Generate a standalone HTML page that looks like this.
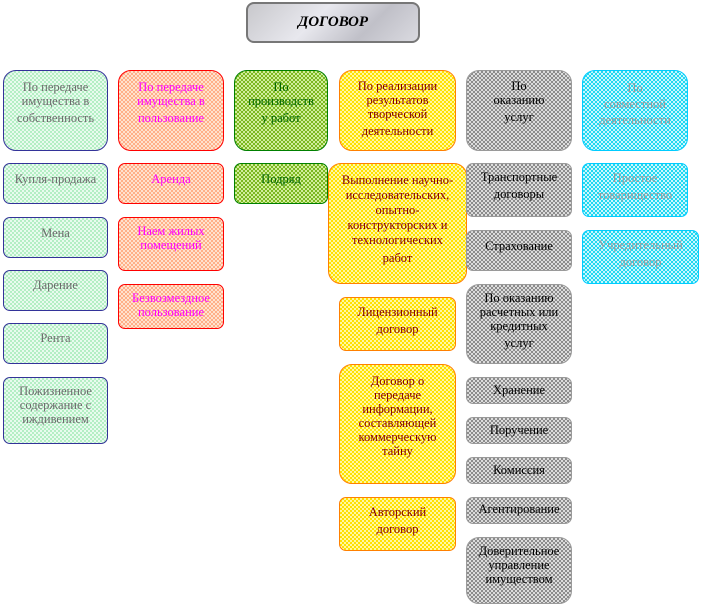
<!DOCTYPE html>
<html><head><meta charset="utf-8"><style>
body{margin:0;width:702px;height:607px;background:#fff;position:relative;overflow:hidden;font-family:"Liberation Serif","Noto Serif CJK SC",serif;}
.b{position:absolute;box-sizing:border-box;border:1px solid;border-radius:13px;text-align:center;font-size:12.5px;line-height:14px;padding-top:5px;white-space:nowrap;background-size:4px 4px;}
.s{border-radius:7px;}
.c1{border-color:#333399;color:#6b6b6b;background-image:conic-gradient(#b4eec4 25%,#e8fbee 0 50%,#b4eec4 0 75%,#e8fbee 0);}
.c2{border-color:#ff0000;color:#ff00ff;background-image:conic-gradient(#ffb088 25%,#ffe2cf 0 50%,#ffb088 0 75%,#ffe2cf 0);}
.c3{border-color:#008000;color:#006600;background-image:conic-gradient(#7cb820 25%,#d0ee9c 0 50%,#7cb820 0 75%,#d0ee9c 0);}
.c4{border-color:#ff8000;color:#800000;background-image:conic-gradient(#ffe000 25%,#fff8a0 0 50%,#ffe000 0 75%,#fff8a0 0);}
.c5{border-color:#9a9a9a;color:#000;background-image:conic-gradient(#8c8c8c 25%,#dcdcdc 0 50%,#8c8c8c 0 75%,#dcdcdc 0);}
.c6{border-color:#00ccff;color:#999;background-image:conic-gradient(#20d8f0 25%,#c8f6ff 0 50%,#20d8f0 0 75%,#c8f6ff 0);}
#t{position:absolute;left:246px;top:2px;width:174px;height:41px;box-sizing:border-box;border:2px solid #777;border-radius:8px;background:linear-gradient(135deg,#c8c8cc,#e8e8ee 40%,#c0c0c8 70%,#dadae0);text-align:center;font-weight:bold;font-style:italic;font-size:15px;line-height:36px;}
.g{display:block;margin-top:3px}
</style></head><body>
<div id="t">ДОГОВОР</div>

<div class="b c1" style="left:3px;top:70px;width:105px;height:81px;padding-top:9px">По передаче<br>имущества в<br><span class="g">собственность</span></div>
<div class="b c1 s" style="left:3px;top:163px;width:105px;height:41px;padding-top:8px">Купля-продажа</div>
<div class="b c1 s" style="left:3px;top:217px;width:105px;height:41px;padding-top:8px">Мена</div>
<div class="b c1 s" style="left:3px;top:270px;width:105px;height:41px;padding-top:7px">Дарение</div>
<div class="b c1 s" style="left:3px;top:323px;width:105px;height:41px;padding-top:7px">Рента</div>
<div class="b c1 s" style="left:3px;top:377px;width:105px;height:67px;padding-top:6px">Пожизненное<br>содержание с<br>иждивением</div>

<div class="b c2" style="left:118px;top:70px;width:106px;height:81px;padding-top:9px">По передаче<br>имущества в<br><span class="g">пользование</span></div>
<div class="b c2 s" style="left:118px;top:163px;width:106px;height:41px;padding-top:8px">Аренда</div>
<div class="b c2 s" style="left:118px;top:217px;width:106px;height:54px;padding-top:6px">Наем жилых<br>помещений</div>
<div class="b c2 s" style="left:118px;top:284px;width:106px;height:45px;padding-top:6px">Безвозмездное<br>пользование</div>

<div class="b c3" style="left:234px;top:70px;width:94px;height:81px;padding-top:9px">По<br>производств<br><span class="g">у работ</span></div>
<div class="b c3 s" style="left:234px;top:163px;width:94px;height:41px;padding-top:8px">Подряд</div>

<div class="b c4" style="left:339px;top:70px;width:117px;height:81px;padding-top:8px">По реализации<br>результатов<br>творческой<br><span class="g">деятельности</span></div>
<div class="b c4" style="left:328px;top:163px;width:139px;height:121px;padding-top:9px;line-height:15px">Выполнение научно-<br>исследовательских,<br>опытно-<br>конструкторских и<br>технологических<br><span class="g">работ</span></div>
<div class="b c4 s" style="left:339px;top:297px;width:117px;height:54px;padding-top:6px;line-height:17px">Лицензионный<br>договор</div>
<div class="b c4" style="left:339px;top:364px;width:117px;height:120px;padding-top:9px">Договор о<br>передаче<br>информации,<br>составляющей<br>коммерческую<br>тайну</div>
<div class="b c4 s" style="left:339px;top:497px;width:117px;height:54px;padding-top:6px;line-height:17px">Авторский<br>договор</div>

<div class="b c5" style="left:466px;top:70px;width:106px;height:81px;padding-top:8px">По<br>оказанию<br><span class="g">услуг</span></div>
<div class="b c5 s" style="left:466px;top:163px;width:106px;height:54px;padding-top:5px;line-height:17px">Транспортные<br>договоры</div>
<div class="b c5 s" style="left:466px;top:230px;width:106px;height:41px;padding-top:8px">Страхование</div>
<div class="b c5" style="left:466px;top:284px;width:106px;height:80px;padding-top:6px">По оказанию<br>расчетных или<br>кредитных<br><span class="g">услуг</span></div>
<div class="b c5 s" style="left:466px;top:377px;width:106px;height:27px;padding-top:5px">Хранение</div>
<div class="b c5 s" style="left:466px;top:417px;width:106px;height:27px;padding-top:5px">Поручение</div>
<div class="b c5 s" style="left:466px;top:457px;width:106px;height:27px;padding-top:5px">Комиссия</div>
<div class="b c5 s" style="left:466px;top:497px;width:106px;height:27px;padding-top:4px">Агентирование</div>
<div class="b c5" style="left:466px;top:537px;width:106px;height:67px;padding-top:6px">Доверительное<br>управление<br>имуществом</div>

<div class="b c6" style="left:582px;top:70px;width:106px;height:81px;padding-top:9px;line-height:16px">По<br>совместной<br>деятельности</div>
<div class="b c6 s" style="left:582px;top:163px;width:106px;height:54px;padding-top:6px;line-height:17px">Простое<br>товарищество</div>
<div class="b c6 s" style="left:582px;top:230px;width:117px;height:54px;padding-top:6px;line-height:17px">Учредительный<br>договор</div>
</body></html>
